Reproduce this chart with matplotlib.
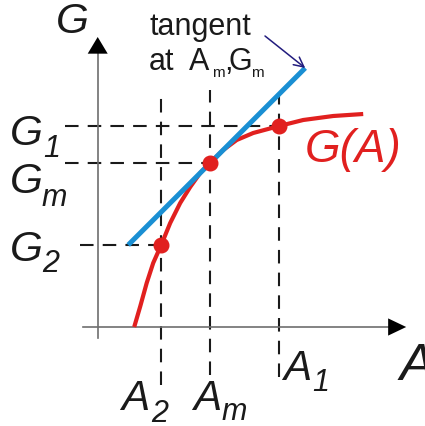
import matplotlib
matplotlib.use("Agg")
import matplotlib.pyplot as plt

# ---- data (A on the horizontal axis, G on the vertical axis) ----
curve_A = [0.73, 0.85, 0.98, 1.11, 1.27, 1.45, 1.65, 1.85, 2.05, 2.25,
           2.51, 2.78, 3.11, 3.63, 4.11, 4.71, 5.31]
curve_G = [0.00, 0.41, 0.88, 1.28, 1.64, 2.08, 2.48, 2.80, 3.08, 3.28,
           3.54, 3.74, 3.88, 4.02, 4.14, 4.22, 4.26]

point_names = ["2", "m", "1"]
point_A = [1.27, 2.25, 3.63]          # A2, Am, A1
point_G = [1.64, 3.28, 4.02]          # G2, Gm, G1

tangent_slope = 1.0                   # dG/dA at (Am, Gm)
tangent_A = [0.61, 4.15]              # extent of the tangent segment

# dashed guide extents
vguide_top = [4.58, 4.74, 4.64]
vguide_bottom = [-1.16, -0.96, -1.00]
hguide_left = [-0.35, -0.65, -0.65]

W, H = 425, 426
fig = plt.figure(figsize=(W / 100, H / 100), dpi=100)
ax = fig.add_axes([0, 0, 1, 1])
ax.set_xlim(-97.7 / 50, (W - 97.7) / 50)
ax.set_ylim((327 - H) / 50, 327 / 50)
ax.axis("off")

FONT = "Liberation Sans"
RED = "#e1201f"
BLUE = "#1a8fd3"
DASH = (0, (6.5, 4.4))


def px(x, y):
    """figure-fraction position from a top-left pixel position"""
    return x / W, 1 - y / H


# dashed guides
for a, top, bot in zip(point_A, vguide_top, vguide_bottom):
    ax.plot([a, a], [bot, top], color="#1a1a1a", lw=1.5, ls=DASH, zorder=1)
for a, g, left in zip(point_A, point_G, hguide_left):
    ax.plot([left, a], [g, g], color="#1a1a1a", lw=1.5, ls=DASH, zorder=1)

# axes lines with arrow heads
ax.plot([-0.29, 5.85], [0, 0], color="#6e6e6e", lw=1.2, zorder=2)
ax.plot([0, 0], [-0.22, 5.5], color="#6e6e6e", lw=1.2, zorder=2)
ax.annotate("", xy=(6.17, 0), xytext=(5.8, 0),
            arrowprops=dict(arrowstyle="-|>,head_length=13,head_width=6.2",
                            mutation_scale=1, color="black", lw=0,
                            shrinkA=0, shrinkB=0), zorder=3)
ax.annotate("", xy=(0, 5.8), xytext=(0, 5.47),
            arrowprops=dict(arrowstyle="-|>,head_length=12,head_width=7.2",
                            mutation_scale=1, color="black", lw=0,
                            shrinkA=0, shrinkB=0), zorder=3)

# curve G(A)
ax.plot(curve_A, curve_G, color=RED, lw=3.0, solid_capstyle="butt",
        solid_joinstyle="round", zorder=4)

# tangent at (Am, Gm)
am, gm = point_A[1], point_G[1]
tg = [gm + tangent_slope * (a - am) for a in tangent_A]
ax.plot(tangent_A, tg, color=BLUE, lw=3.6, solid_capstyle="butt", zorder=5)

# marked points
ax.plot(point_A, point_G, "o", color=RED, ms=10.5, mec=RED, zorder=6)

# pointer to the tangent
ax.annotate("", xy=(tangent_A[1], tg[1]), xytext=((265 - 97.7) / 50, (327 - 36) / 50),
            arrowprops=dict(arrowstyle="->,head_length=7,head_width=3.5",
                            mutation_scale=1, color="#221c7e", lw=1.1,
                            shrinkA=0, shrinkB=0), zorder=6)


# ---- labels ----
def lab(x, y, s, size, color="#1a1a1a", style="italic"):
    fig.text(*px(x, y), s, fontsize=size, family=FONT, style=style,
             color=color, ha="left", va="baseline")


BIG, SUB = 30.5, 22
lab(56, 33, "G", BIG)
lab(10, 145, "G", BIG); lab(43, 157, "1", SUB)
lab(10, 193, "G", BIG); lab(42, 206, "m", SUB)
lab(10, 261, "G", BIG); lab(42, 272, "2", SUB)

lab(121, 410, "A", BIG); lab(151, 422, "2", SUB)
lab(193, 410, "A", BIG); lab(221, 420, "m", SUB)
lab(283, 380, "A", BIG); lab(312, 391, "1", SUB)
lab(400, 380, "A", 37)

lab(305, 162, "G(A)", 33, color=RED)

lab(149, 35, "tangent", 22, style="normal")
lab(149, 70, "at", 22, style="normal")
lab(189, 70, "A", 22, style="normal")
lab(212, 77, "m", 11, style="normal")
lab(224, 70, ",", 22, style="normal")
lab(229, 70, "G", 22, style="normal")
lab(251, 77, "m", 11, style="normal")

fig.savefig("out.png", dpi=100)
